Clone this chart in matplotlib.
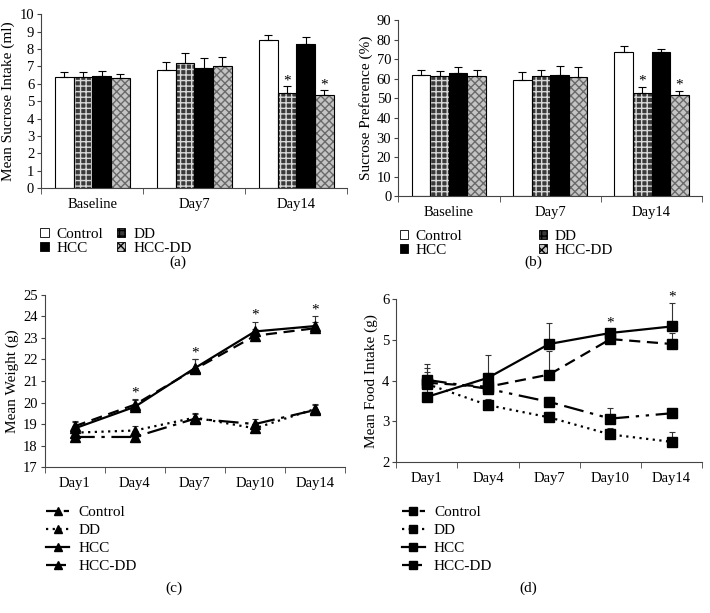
import numpy as np
import matplotlib
matplotlib.use("Agg")
import matplotlib.pyplot as plt
from matplotlib.patches import Patch
from matplotlib.lines import Line2D

plt.rcParams['font.family'] = ['Liberation Serif', 'DejaVu Serif']
plt.rcParams['font.size'] = 10

groups = ['Control', 'DD', 'HCC', 'HCC-DD']
bar_days = ['Baseline', 'Day7', 'Day14']
line_days = ['Day1', 'Day4', 'Day7', 'Day10', 'Day14']

# (a) sucrose intake (ml), per group over bar_days
intake_mean = {'Control': [6.4, 6.8, 8.5], 'DD': [6.4, 7.2, 5.45],
               'HCC': [6.45, 6.9, 8.3], 'HCC-DD': [6.35, 7.0, 5.35]}
intake_err = {'Control': [0.3, 0.45, 0.3], 'DD': [0.28, 0.55, 0.4],
              'HCC': [0.3, 0.6, 0.38], 'HCC-DD': [0.2, 0.55, 0.3]}
# (b) sucrose preference (%)
pref_mean = {'Control': [62, 59.5, 74], 'DD': [61.5, 61.5, 53],
             'HCC': [63, 62, 73.5], 'HCC-DD': [61.5, 61, 51.5]}
pref_err = {'Control': [2.5, 4, 3], 'DD': [2.5, 3, 3],
            'HCC': [3, 4.5, 2], 'HCC-DD': [3, 5, 2.5]}
# (c) weight (g), per group over line_days
weight_mean = {'Control': [18.9, 19.9, 21.55, 23.1, 23.45], 'DD': [18.6, 18.7, 19.3, 18.8, 19.7],
               'HCC': [18.8, 19.8, 21.6, 23.3, 23.55], 'HCC-DD': [18.4, 18.4, 19.25, 19.0, 19.65]}
weight_err = {'Control': [0.25, 0.25, 0.45, 0.3, 0.3], 'DD': [0.2, 0.2, 0.2, 0.2, 0.25],
              'HCC': [0.3, 0.3, 0.4, 0.45, 0.45], 'HCC-DD': [0.2, 0.2, 0.2, 0.25, 0.25]}
# (d) food intake (g)
food_mean = {'Control': [3.95, 3.85, 4.15, 5.02, 4.9], 'DD': [3.92, 3.4, 3.1, 2.68, 2.5],
             'HCC': [3.6, 4.07, 4.9, 5.17, 5.33], 'HCC-DD': [4.02, 3.8, 3.48, 3.07, 3.2]}
food_err = {'Control': [0.35, 0.35, 0.57, 0.15, 0.28], 'DD': [0.3, 0.15, 0.12, 0.15, 0.23],
            'HCC': [0.3, 0.55, 0.52, 0.1, 0.57], 'HCC-DD': [0.4, 0.2, 0.12, 0.25, 0.1]}

sig_bar_a = [(2, 'DD'), (2, 'HCC-DD')]
sig_bar_b = [(2, 'DD'), (2, 'HCC-DD')]
sig_c = [1, 2, 3, 4]
sig_d = [3, 4]

bar_face = {'Control': 'white', 'DD': '#3a3a3a', 'HCC': 'black', 'HCC-DD': '#c4c4c4'}
bar_hatch = {'Control': None, 'DD': '+++', 'HCC': None, 'HCC-DD': 'xxxx'}
hatch_col = {'Control': 'white', 'DD': '#d8d8d8', 'HCC': 'black', 'HCC-DD': '#6a6a6a'}
line_style = {'Control': (0, (5, 3)), 'DD': (0, (1, 2)), 'HCC': '-',
              'HCC-DD': (0, (9, 3, 1.5, 3))}
line_style_d = dict(line_style, **{'HCC-DD': (0, (9, 3, 1.5, 3, 1.5, 3))})

fig = plt.figure(figsize=(7.1, 6.13), dpi=100)
axc = '#444444'


def style_axes(ax, n, labels):
    for s in ['top', 'right']:
        ax.spines[s].set_visible(False)
    for s in ['left', 'bottom']:
        ax.spines[s].set_color(axc)
        ax.spines[s].set_linewidth(0.8)
    ax.set_xlim(-0.5, n - 0.5)
    ax.set_xticks(range(n), labels)
    ax.set_xticks(np.arange(n + 1) - 0.5, minor=True)
    ax.tick_params(axis='x', which='major', length=0, pad=7, labelsize=10.5)
    ax.tick_params(axis='x', which='minor', length=4, color=axc)
    ax.tick_params(axis='y', length=3, color=axc, labelsize=10.5, pad=2)


def bar_panel(rect, mean, err, ylim, yticks, ylabel, sig, star_off, legx, legy, colsp, tagx, label):
    ax = fig.add_axes(rect)
    x = np.arange(len(bar_days))
    w = 0.183
    for i, g in enumerate(groups):
        pos = x + (i - 1.5) * w
        ax.bar(pos, mean[g], w, color=bar_face[g], hatch=bar_hatch[g], edgecolor=hatch_col[g],
               linewidth=0, zorder=2)
        ax.bar(pos, mean[g], w, fill=False, edgecolor='black', linewidth=0.8, zorder=3,
               yerr=[np.zeros(3), err[g]], error_kw=dict(ecolor='black', elinewidth=0.8,
                                                         capsize=3, capthick=0.8))
    for k, g in sig:
        i = groups.index(g)
        ax.text(k + (i - 1.5) * w, mean[g][k] + err[g][k] + star_off, '*',
                ha='center', va='center', fontsize=11)
    ax.set_ylim(*ylim)
    ax.set_yticks(yticks)
    ax.set_ylabel(ylabel, fontsize=11, labelpad=3)
    style_axes(ax, 3, bar_days)
    handles = [Patch(facecolor=bar_face[g], hatch=bar_hatch[g], edgecolor='black',
                     linewidth=0.6) for g in groups]
    order = [0, 2, 1, 3]
    fig.legend([handles[j] for j in order], [groups[j] for j in order], ncol=2,
               loc='upper left', bbox_to_anchor=(legx, legy), frameon=False,
               borderpad=0, borderaxespad=0,
               fontsize=11, handlelength=0.55, handleheight=0.55, handletextpad=0.5,
               labelspacing=0.08, columnspacing=colsp)
    fig.text(tagx, 0.566, label, ha='center', fontsize=11)
    return ax


def line_panel(rect, mean, err, ylim, yticks, ylabel, sig, star_off, marker, ms, styles,
               legx, tagx, label):
    ax = fig.add_axes(rect)
    x = np.arange(len(line_days))
    for g in groups:
        ax.errorbar(x, mean[g], yerr=[np.zeros(5), err[g]], fmt='none', ecolor='#333333',
                    elinewidth=0.8, capsize=2.5, capthick=0.8, zorder=2)
        ax.plot(x, mean[g], color='black', linestyle=styles[g], linewidth=1.6,
                marker=marker, markersize=ms, zorder=3)
    for k in sig:
        top = max(mean[g][k] + err[g][k] for g in groups)
        ax.text(k, top + star_off, '*', ha='center', va='center', fontsize=11)
    ax.set_ylim(*ylim)
    ax.set_yticks(yticks)
    ax.set_ylabel(ylabel, fontsize=11, labelpad=3)
    style_axes(ax, 5, line_days)
    handles = [Line2D([], [], color='black', linestyle=styles[g], linewidth=1.6,
                      marker=marker, markersize=ms - 1) for g in groups]
    fig.legend(handles, groups, loc='upper left', bbox_to_anchor=(legx, 0.175),
               frameon=False, borderpad=0, borderaxespad=0, fontsize=11,
               handlelength=1.5, handletextpad=0.6, labelspacing=0.28)
    fig.text(tagx, 0.035, label, ha='center', fontsize=11)
    return ax


bar_panel([0.058, 0.693, 0.431, 0.284], intake_mean, intake_err, (0, 10), range(0, 11),
          'Mean Sucrose Intake (ml)', sig_bar_a, 0.3, 0.057, 0.628, 0.9, 0.25, '(a)')
bar_panel([0.561, 0.680, 0.428, 0.287], pref_mean, pref_err, (0, 90), range(0, 91, 10),
          'Sucrose Preference (%)', sig_bar_b, 3.0, 0.563, 0.625, 5.0, 0.751, '(b)')

line_panel([0.063, 0.238, 0.423, 0.281], weight_mean, weight_err, (17, 25), range(17, 26),
           'Mean Weight (g)', sig_c, 0.3, '^', 7, line_style, 0.065, 0.245, '(c)')
line_panel([0.558, 0.246, 0.431, 0.266], food_mean, food_err, (2, 6), range(2, 7),
           'Mean Food Intake (g)', sig_d, 0.15, 's', 6.5, line_style_d, 0.566, 0.744, '(d)')

fig.savefig('out.png', dpi=100)
